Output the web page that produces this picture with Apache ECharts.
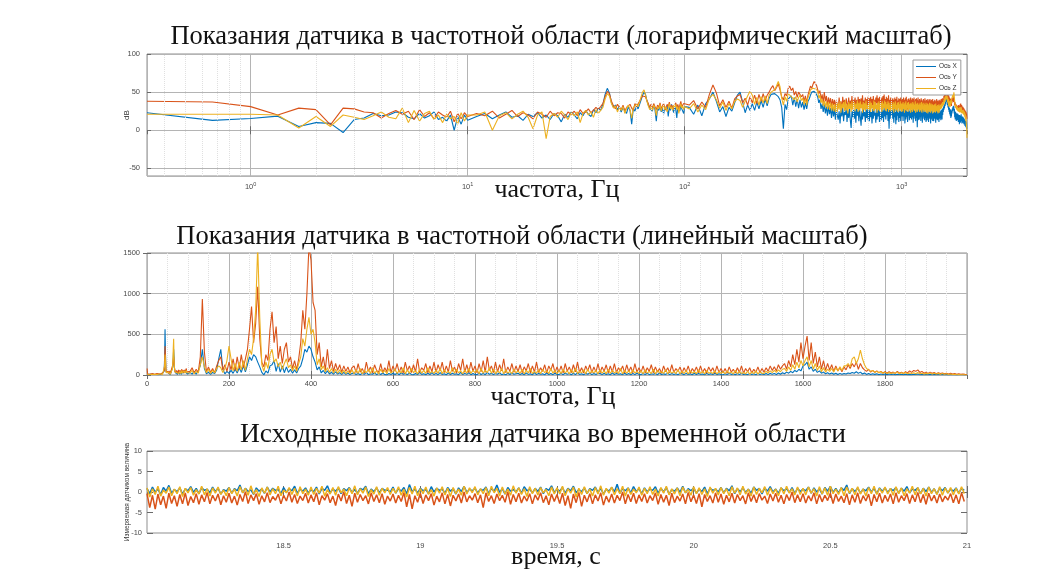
<!DOCTYPE html>
<html>
<head>
<meta charset="utf-8">
<script src="https://cdn.jsdelivr.net/npm/echarts@6/dist/echarts.min.js"></script>
<style>
  html, body { margin: 0; padding: 0; background: #ffffff; }
  #chart { width: 1057px; height: 571px; }
</style>
</head>
<body>
<div id="chart"></div>
<script>
// Sensor axes and their trace colours
const axisNames = ['Ось X', 'Ось Y', 'Ось Z'];
const axisColors = ['#0072BD', '#D95319', '#EDB120'];

// Spectrum bins, Hz: 1/3 Hz bins up to 10 Hz, then 1 Hz bins to 100 Hz, then 5 Hz bins to 2000 Hz
const freqLow = [0.333, 0.667, 1, 1.333, 1.667, 2, 2.333, 2.667, 3, 3.333, 3.667, 4, 4.333, 4.667, 5,
  5.333, 5.667, 6, 6.333, 6.667, 7, 7.333, 7.667, 8, 8.333, 8.667, 9, 9.333, 9.667, 10];
const freqMidRange = [11, 100, 1];
const freqHighRange = [105, 2000, 5];

// Spectrum levels, dB — 0.33..10 Hz
const dbLowX = [23, 13, 15.5, 18.5, 5, 10, 9, -3, 14, 16, 22, 19, 20, 24, 23, 17, 15, 22, 16, 19, 24, 14, 17, 12, 20, 0, 18, 8, 20, 13];
const dbLowY = [38, 37, 31, 20, 29, 27, 7, 29, 28, 24, 23, 16, 22, 26, 21, 25, 14, 27, 18, 23, 15, 24, 20, 17, 25, 11, 22, 15, 23, 18];
const dbLowZ = [21, 21, 21, 20, 3, 18, 5, 20, 17, 14, 19, 24, 17, 15, 29, 10, 26, 12, 22, 25, 14, 20, 10, 21, 15, 18, 8, 23, 12, 20];

// Spectrum levels, dB — 11..100 Hz
const dbMidX = [
  18, 22, 15, 20, 24, 17, 19, 13, 21, 18,
  23, 16, 20, 14, 22, 19, 11, 21, 17, 24,
  20, 15, 23, 19, 26, 21, 18, 27, 23, 29,
  26, 34, 47, 55, 49, 36, 30, 33, 27, 31,
  24, 30, 28, 22, 31, 26, 8, 29, 25, 32,
  28, 34, 40, 46, 50, 47, 39, 33, 29, 31,
  25, 33, 27, 12, 30, 26, 32, 24, 29, 21,
  31, 27, 33, 18, 30, 26, 34, 28, 23, 31,
  27, 16, 32, 29, 25, 33, 28, 30, 22, 31];
const dbMidY = [
  22, 19, 25, 16, 21, 26, 18, 23, 20, 15,
  24, 21, 17, 25, 19, 23, 22, 16, 24, 21,
  25, 19, 27, 22, 24, 28, 23, 26, 30, 27,
  31, 35, 44, 51, 48, 38, 32, 28, 34, 30,
  27, 33, 25, 30, 28, 34, 29, 26, 35, 31,
  33, 38, 42, 45, 47, 44, 39, 35, 30, 34,
  29, 35, 31, 27, 33, 30, 36, 28, 32, 35,
  30, 26, 34, 31, 37, 29, 33, 35, 28, 32,
  36, 30, 34, 27, 33, 38, 31, 29, 35, 33];
const dbMidZ = [
  20, 24, 0, 19, 23, 15, 21, 25, 17, 2,
  20, 24, -11, 18, 22, 17, 25, 20, 14, 23,
  19, 24, 10, 22, 26, 20, 24, 17, 27, 22,
  26, 30, 41, 48, 45, 35, 29, 32, 24, 30,
  26, 31, 22, 29, 33, 27, 16, 30, 28, 34,
  31, 37, 44, 50, 53, 46, 38, 32, 27, 31,
  26, 33, 29, 19, 31, 28, 34, 25, 30, 33,
  27, 31, 24, 29, 35, 28, 31, 26, 33, 30,
  34, 27, 31, 22, 30, 35, 29, 32, 27, 31];

// Spectrum levels, dB — 105..2000 Hz, one row per 100 Hz
const dbHighX = [
  30, 21, 33, 19, 35, 41, 50, 38, 24, 31, 18, 30, 25, 36, 46, 50, 37, 23, 33, 26,
  35, 26, 37, 28, 39, 30, 41, 32, 42, 47, 45, 48, 47, 44, 40, 30, 2, 34, 27, 41,
  42, 45, 33, 43, 31, 41, 29, 40, 30, 37, 27, 36, 28, 38, 41, 46, 50, 49, 51, 50,
  47, 44, 36, 40, 28, 35, 24, 34, 22, 31, 19, 32, 21, 29, 16, 30, 18, 28, 14, 26,
  28, 14, 25, 9, 27, 18, 30, 12, 24, 20, 29, 11, 26, 16, 28, 13, 3, 25, 17, 27,
  15, 27, 10, 29, 19, 26, 12, 28, 17, 6, 25, 14, 30, 18, 24, 11, 27, 16, 29, 13,
  26, 12, 29, 17, 24, 9, 28, 15, 27, 19, 23, 10, 30, 14, 26, 18, 29, 11, 25, 16,
  13, 28, 16, 26, 11, 30, 18, 27, 14, 25, 20, 29, 12, 24, 2, 27, 15, 28, 19, 24,
  27, 15, 25, 10, 28, 17, 24, 8, 29, 13, 26, 19, 23, 11, 28, 16, 25, 12, 27, 18,
  16, 26, 12, 28, 18, 25, 9, 27, 14, 29, 17, 24, 11, 26, 19, 28, 13, 25, 16, 27,
  25, 14, 27, 17, 24, 10, 28, 15, 26, 19, 23, 12, 27, 16, 25, 4, 26, 13, 28, 18,
  14, 25, 17, 27, 12, 24, 19, 26, 10, 28, 15, 23, 18, 27, 13, 25, 16, 24, 11, 26,
  24, 13, 26, 16, 23, 11, 27, 15, 25, 18, 22, 9, 26, 14, 24, 17, 27, 12, 23, 15,
  12, 24, 15, 26, 18, 23, 10, 25, 14, 27, 16, 22, 13, 25, 17, 24, 11, 26, 15, 23,
  16, 25, 13, 27, 18, 26, 14, 28, 20, 29, 24, 31, 27, 33, 29, 35, 32, 37, 34, 41,
  42, 44, 37, 40, 33, 37, 30, 34, 27, 31, 24, 29, 21, 28, 19, 27, 16, 26, 18, 25,
  22, 28, 25, 30, 27, 32, 26, 31, 22, 28, 17, 25, 14, 24, 18, 23, 12, 22, 15, 21,
  13, 22, 16, 21, 11, 20, 15, 19, 8, 20, 14, 18, 10, 19, 15, 21, 12, 18, 9, 17,
  12, 18, 10, 17, 13, 16, 8, 15, 11, 14, 6, 13, 9, 12, 4, 11, 7, 10, 3, 2];
const dbHighY = [
  33, 39, 28, 37, 30, 47, 59.4, 49, 32, 40, 30, 38, 29, 41, 45, 47, 36, 42, 33, 44,
  36, 46, 35, 47, 38, 48, 39, 46, 50, 55, 58.5, 52, 56, 60.7, 53, 44, 40, 48, 45, 55,
  57.8, 52, 55.5, 46, 51, 43, 50, 52, 44, 47, 38, 45, 36, 46, 52, 58, 55, 60, 64, 63,
  59, 58, 48, 52, 40, 47, 36, 50, 38, 45, 33, 43, 35, 42, 31, 41, 33, 40, 29, 39,
  41, 29, 43, 31, 38, 27, 44, 33, 40, 28, 42, 35, 30, 43, 29, 39, 32, 45, 28, 41,
  33, 43, 30, 40, 28, 44, 34, 41, 29, 42, 31, 46, 30, 39, 35, 43, 28, 41, 32, 44,
  30, 42, 34, 44, 29, 41, 31, 45, 33, 40, 28, 43, 35, 46, 30, 42, 29, 44, 33, 41,
  28, 43, 32, 45, 30, 47, 35, 41, 29, 44, 31, 42, 34, 46, 29, 40, 33, 43, 30, 41,
  32, 42, 29, 40, 34, 43, 28, 41, 31, 44, 30, 39, 33, 42, 28, 41, 35, 43, 29, 40,
  31, 41, 28, 43, 33, 40, 29, 42, 32, 44, 30, 39, 27, 41, 34, 42, 29, 40, 31, 43,
  29, 40, 33, 42, 28, 41, 31, 43, 30, 39, 34, 41, 28, 42, 32, 40, 29, 43, 31, 39,
  30, 41, 28, 39, 33, 42, 29, 40, 31, 38, 27, 41, 32, 39, 29, 42, 30, 38, 33, 40,
  28, 39, 31, 41, 27, 38, 32, 40, 29, 41, 30, 38, 28, 40, 33, 39, 27, 41, 30, 38,
  29, 38, 27, 40, 31, 37, 28, 39, 30, 41, 27, 38, 32, 39, 28, 37, 30, 40, 29, 38,
  31, 39, 33, 41, 35, 40, 34, 42, 37, 41, 43, 37, 45, 40, 48, 42, 50, 44, 52, 46,
  51, 53.6, 45, 52, 43, 49, 40, 47, 37, 45, 35, 43, 36, 42, 33, 41, 34, 39, 32, 40,
  36, 42, 38, 43, 40, 44, 37, 43, 39, 36, 33, 37, 31, 35, 30, 34, 29, 33, 28, 32,
  27, 32, 28, 31, 26, 33, 27, 31, 25, 32, 28, 34, 30, 35, 33, 36, 30, 33, 27, 31,
  26, 31, 27, 30, 24, 29, 25, 28, 23, 27, 22, 26, 21, 25, 20, 24, 19, 22, 18, 15];
const dbHighZ = [
  28, 35, 24, 33, 27, 42, 47, 40, 29, 37, 26, 35, 28, 38, 41, 39, 30, 38, 45, 51,
  46, 34, 43, 33, 44, 36, 45, 35, 46, 50, 48, 53, 58, 64, 57, 42, 33, 44, 38, 48,
  50, 44, 46, 40, 44, 37, 43, 46, 39, 42, 34, 41, 33, 43, 47, 53, 51, 55, 57, 54,
  55, 52, 42, 46, 36, 41, 32, 39, 30, 38, 28, 37, 27, 36, 26, 35, 25, 34, 24, 36,
  24, 36, 27, 38, 23, 35, 29, 37, 25, 39, 26, 34, 22, 37, 28, 35, 24, 38, 27, 33,
  37, 25, 35, 28, 39, 24, 36, 26, 38, 29, 34, 23, 37, 27, 35, 25, 39, 28, 33, 26,
  35, 27, 38, 24, 36, 29, 33, 25, 39, 26, 37, 28, 34, 23, 36, 27, 38, 25, 35, 29,
  36, 24, 38, 27, 35, 29, 39, 26, 37, 25, 34, 28, 38, 24, 36, 27, 33, 25, 37, 28,
  34, 26, 37, 23, 35, 28, 38, 25, 33, 27, 36, 24, 37, 29, 34, 25, 38, 27, 35, 24,
  35, 25, 37, 28, 34, 23, 36, 27, 38, 25, 33, 29, 36, 24, 37, 26, 34, 28, 35, 23,
  36, 27, 34, 24, 37, 26, 35, 28, 33, 25, 38, 23, 35, 27, 34, 24, 36, 28, 33, 26,
  34, 24, 36, 27, 33, 25, 37, 23, 35, 28, 32, 26, 36, 24, 34, 27, 33, 25, 36, 23,
  33, 25, 35, 22, 34, 27, 32, 24, 36, 26, 33, 23, 35, 27, 31, 25, 34, 22, 33, 26,
  32, 24, 34, 27, 31, 23, 35, 25, 32, 26, 30, 24, 33, 22, 31, 25, 34, 23, 32, 27,
  26, 33, 28, 34, 29, 35, 30, 36, 32, 37, 38, 33, 40, 35, 42, 37, 44, 39, 45, 41,
  45, 47, 40, 45, 37, 43, 35, 41, 32, 39, 31, 37, 33, 38, 31, 39, 34, 40, 35, 41,
  41, 43, 40, 46, 47, 43, 46, 49.7, 46, 42, 38, 36, 33, 35, 30, 33, 29, 32, 27, 31,
  26, 30, 25, 29, 27, 31, 24, 29, 26, 30, 23, 28, 25, 29, 24, 30, 23, 27, 22, 26,
  24, 28, 22, 27, 21, 26, 20, 25, 19, 24, 17, 22, 15, 20, 12, 17, 8, 10, 3, -10];

// Raw readings, 18.00..20.99 s at 10 ms, one row per 0.3 s
const timeStart = 18;
const timeStep = 0.01;
const sigX = [
  0.9, -0.4, 1.2, 0.0, 0.7, -0.6, 1.1, 0.2, 1.6, -0.3, 0.6, 0.1, 1.0, -0.5, 0.8, 0.3, 1.3, -0.1, 0.9, -0.4, 1.0, 0.4, 0.7, -0.2, 1.2, 0.1, 0.9, -0.5, 0.6, 0.2,
  1.1, -0.3, 0.8, 0.3, 1.7, -0.2, 0.9, 0.1, 0.5, -0.6, 1.0, 0.2, 0.7, -0.3, 1.2, 0.0, 0.9, 0.4, 0.6, -0.4, 1.1, -0.1, 0.8, 0.3, 1.4, -0.3, 0.7, 0.2, 1.0, -0.2,
  0.5, 0.1, 1.2, -0.5, 0.9, 0.4, 1.5, -0.2, 0.7, 0.2, 1.0, -0.4, 0.8, 0.3, 1.1, -0.1, 0.6, -0.3, 0.9, 0.5, 1.4, -0.4, 0.7, 0.1, 1.0, -0.2, 0.9, 0.4, 0.5, 0.0,
  1.2, -0.3, 0.8, 0.2, 1.1, -0.5, 1.8, 0.1, 0.7, -0.2, 0.9, 0.3, 0.6, -0.4, 1.3, 0.0, 0.9, 0.4, 0.7, -0.3, 1.1, 0.2, 0.8, -0.5, 1.0, 0.1, 1.4, -0.1, 0.7, 0.3,
  0.9, -0.2, 0.7, 0.4, 1.2, -0.4, 0.9, 0.1, 1.7, -0.1, 0.8, -0.5, 1.1, 0.2, 0.6, 0.0, 1.0, -0.3, 1.3, 0.3, 0.7, -0.2, 0.9, 0.1, 1.2, -0.4, 0.8, 0.4, 1.5, -0.1,
  0.7, 0.2, 1.1, -0.3, 0.9, 0.3, 1.4, -0.2, 0.6, 0.1, 1.0, -0.4, 0.8, 0.4, 1.2, -0.1, 0.9, -0.5, 0.7, 0.2, 1.1, 0.0, 1.9, -0.3, 0.8, 0.3, 1.0, -0.2, 1.3, 0.1,
  0.8, -0.4, 1.0, 0.1, 0.7, 0.4, 1.3, -0.3, 0.9, 0.0, 1.1, -0.5, 0.6, 0.2, 1.0, -0.1, 1.4, -0.2, 0.8, 0.3, 1.0, -0.3, 0.7, 0.1, 1.2, -0.4, 0.9, 0.4, 0.7, 0.0,
  1.1, -0.2, 0.9, 0.3, 1.5, -0.4, 0.8, 0.1, 1.0, -0.1, 0.7, -0.3, 1.2, 0.4, 0.9, -0.5, 1.0, 0.2, 1.3, 0.0, 0.7, -0.3, 1.0, 0.3, 0.8, -0.1, 1.1, -0.4, 0.9, 0.1,
  0.7, 0.3, 1.2, -0.3, 1.0, 0.0, 0.8, -0.5, 1.1, 0.2, 1.4, -0.1, 0.9, -0.2, 1.0, 0.4, 1.7, -0.4, 0.8, 0.1, 1.0, -0.3, 0.7, 0.3, 1.2, 0.0, 0.9, -0.4, 1.0, 0.2,
  1.0, -0.1, 0.8, 0.3, 1.1, -0.3, 0.9, 0.2, 1.3, -0.2, 0.7, 0.4, 1.0, -0.4, 0.9, 0.1, 1.2, -0.1, 0.8, -0.5, 1.0, 0.3, 1.1, -0.2, 0.7, 0.2, 1.0, -0.3, 0.9, 0.4];
const sigY = [
  -0.4, -3.8, -0.8, -4.2, -0.5, -3.1, -1.0, -4.0, -0.3, -2.8, -0.9, -3.5, -0.6, -2.9, -0.2, -3.3, -1.1, -2.6, -0.4, -3.0, -0.7, -2.4, -0.1, -2.9, -0.8, -2.2, -0.5, -3.1, -0.9, -2.5,
  -0.3, -2.7, -1.0, -3.2, -0.6, -2.3, 0.1, -2.8, -0.7, -2.1, -0.4, -3.0, -0.9, -2.4, -0.2, -2.6, -1.1, -2.0, -0.5, -2.9, -0.8, -2.2, 0.0, -2.5, -0.6, -2.8, -1.0, -2.1, -0.3, -2.7,
  -0.7, -2.4, -0.2, -3.1, -0.9, -2.0, -0.4, -2.6, -1.0, -3.3, -0.5, -2.2, 0.1, -2.8, -0.8, -3.5, -0.3, -2.5, -0.6, -2.1, -0.9, -2.9, -0.2, -2.3, -0.7, -2.6, -0.4, -3.0, -1.0, -2.2,
  -0.5, -2.7, -0.8, -2.3, -0.1, -3.6, -0.6, -4.1, -0.9, -2.5, -0.3, -2.8, -0.7, -2.1, -0.4, -3.2, -1.0, -2.4, -0.2, -2.9, -0.6, -3.4, -0.8, -2.2, -0.5, -2.7, 0.0, -2.4, -0.9, -2.0,
  -0.4, -2.6, -0.7, -3.8, -0.2, -2.3, -0.9, -2.8, -0.5, -2.1, -0.8, -2.5, 0.1, -3.0, -0.6, -2.4, -0.3, -2.7, -1.0, -2.2, -0.4, -2.9, -0.7, -2.0, -0.2, -2.6, -0.9, -3.1, -0.5, -2.3,
  -0.6, -2.8, -0.3, -3.3, -0.9, -4.0, -0.5, -2.6, -0.1, -3.5, -0.8, -2.4, -0.4, -2.9, -0.7, -2.2, -0.2, -3.2, -1.0, -2.5, -0.5, -2.7, -0.8, -2.1, 0.0, -2.9, -0.6, -2.4, -0.3, -2.8,
  -0.7, -2.3, -0.4, -2.7, -0.9, -2.1, -0.2, -3.0, -0.6, -2.5, -0.8, -3.3, -0.3, -2.6, -1.0, -2.2, -0.5, -2.9, -0.1, -2.4, -0.7, -2.8, -0.4, -3.6, -0.6, -2.3, -0.9, -2.7, -0.2, -2.5,
  -0.5, -3.0, -0.8, -2.4, -0.3, -2.7, -0.6, -2.1, -0.9, -2.9, -0.2, -2.3, -0.7, -2.6, -0.4, -2.0, -1.0, -2.8, -0.5, -2.2, -0.3, -2.5, -0.8, -2.9, -0.6, -2.1, 0.0, -2.6, -0.7, -2.4,
  -0.4, -2.7, -0.9, -2.2, -0.2, -2.9, -0.6, -2.4, -0.8, -2.1, -0.3, -2.8, -0.5, -2.3, -1.0, -2.6, -0.4, -3.1, -0.7, -2.5, -0.2, -2.8, -0.9, -2.2, -0.5, -3.4, -0.6, -2.4, -0.3, -2.7,
  -0.8, -2.3, -0.5, -2.9, -0.2, -2.5, -0.9, -2.1, -0.4, -2.8, -0.7, -2.4, -0.1, -2.6, -0.6, -3.0, -0.3, -2.2, -0.8, -2.7, -0.5, -2.4, -1.0, -2.0, -0.4, -2.6, -0.7, -2.9, -0.2, -2.3];
const sigZ = [
  1.0, -1.2, 0.8, -0.6, 1.4, -1.0, 0.5, -0.3, 1.2, -0.9, 0.7, -0.4, 1.3, -1.1, 0.9, -0.2, 1.1, -0.8, 0.6, -0.5, 1.4, -0.7, 0.8, -1.0, 1.0, -0.3, 1.2, -0.6, 0.5, -0.9,
  1.1, -0.4, 0.7, -1.0, 1.3, -0.2, 0.9, -0.8, 1.5, -0.5, 0.6, -1.1, 1.0, -0.3, 1.2, -0.7, 0.8, -0.4, 1.4, -0.9, 0.5, -0.2, 1.1, -0.6, 0.9, -1.0, 1.3, -0.4, 0.7, -0.8,
  1.2, -0.6, 0.9, -0.3, 1.4, -1.0, 0.6, -0.5, 1.1, -0.8, 1.3, -0.2, 0.7, -0.9, 1.0, -0.4, 1.5, -0.7, 0.8, -0.3, 1.2, -1.1, 0.6, -0.5, 1.3, -0.8, 0.9, -0.2, 1.1, -0.6,
  0.9, -0.3, 1.3, -0.8, 0.7, -1.2, 1.1, -0.5, 1.4, -0.9, 0.8, -0.4, 1.2, -0.6, 0.6, -1.0, 1.0, -0.3, 1.3, -0.7, 0.9, -1.1, 1.1, -0.4, 0.7, -0.8, 1.4, -0.5, 1.0, -0.2,
  1.3, -0.7, 0.8, -0.4, 1.1, -0.9, 1.4, -0.2, 0.9, -1.0, 1.2, -0.5, 0.7, -0.8, 1.5, -0.3, 1.0, -0.6, 0.8, -1.1, 1.3, -0.4, 0.9, -0.7, 1.1, -0.2, 0.6, -0.9, 1.2, -0.5,
  1.0, -0.5, 1.4, -0.9, 0.8, -0.3, 1.2, -1.2, 0.9, -0.6, 1.3, -0.4, 0.7, -1.0, 1.1, -0.5, 1.5, -0.8, 0.9, -0.3, 1.2, -0.7, 0.8, -0.4, 1.4, -1.0, 1.0, -0.6, 0.7, -0.2,
  1.2, -0.8, 0.9, -0.4, 1.3, -0.6, 0.7, -1.0, 1.1, -0.3, 1.4, -0.7, 0.8, -0.5, 1.0, -0.9, 1.2, -0.2, 0.6, -0.8, 1.3, -0.4, 1.0, -0.6, 0.8, -1.1, 1.2, -0.3, 0.9, -0.7,
  1.1, -0.4, 0.8, -0.9, 1.3, -0.3, 1.0, -0.7, 1.4, -0.5, 0.7, -1.0, 1.2, -0.6, 0.9, -0.2, 1.3, -0.8, 1.0, -0.4, 0.7, -0.9, 1.1, -0.5, 1.4, -0.3, 0.8, -0.7, 1.2, -0.6,
  0.9, -0.7, 1.2, -0.3, 0.8, -1.0, 1.3, -0.5, 1.0, -0.8, 1.4, -0.4, 0.7, -0.6, 1.1, -0.9, 1.2, -0.3, 0.9, -0.7, 1.3, -0.5, 0.8, -1.0, 1.1, -0.4, 1.4, -0.6, 0.9, -0.3,
  1.2, -0.5, 0.9, -0.8, 1.3, -0.4, 1.0, -0.9, 0.8, -0.3, 1.4, -0.7, 1.1, -0.5, 0.9, -1.0, 1.2, -0.4, 0.8, -0.6, 1.3, -0.8, 1.0, -0.3, 1.1, -0.7, 0.9, -0.5, 1.3, -0.4];

// Axis text
const titles = [
  'Показания датчика в частотной области (логарифмический масштаб)',
  'Показания датчика в частотной области (линейный масштаб)',
  'Исходные показания датчика во временной области'
];
const xNames = ['частота, Гц', 'частота, Гц', 'время, с'];
const yNames = ['dB', '', 'Измеряемая датчиком величина'];

// ---- assembled tables ----
function rangeList(r) {
  const out = [];
  for (let v = r[0]; v <= r[1] + 1e-9; v += r[2]) out.push(v);
  return out;
}
const freqs = freqLow.concat(rangeList(freqMidRange), rangeList(freqHighRange));
const dbAll = [
  dbLowX.concat(dbMidX, dbHighX),
  dbLowY.concat(dbMidY, dbHighY),
  dbLowZ.concat(dbMidZ, dbHighZ)
];
const sigAll = [sigX, sigY, sigZ];
const times = sigX.map((_, k) => +(timeStart + k * timeStep).toFixed(2));

// Dotted minor grid of the logarithmic frequency axis (2..9 in each decade)
const logMinor = [];
[0.1, 1, 10, 100, 1000].forEach(d => {
  for (let m = 2; m <= 9; m++) {
    const v = +(m * d).toFixed(4);
    if (v > 0.34 && v < 2000) logMinor.push(v);
  }
});

const LABEL_FONT = 'Liberation Sans';
const SERIF = 'Liberation Serif';
const tickColor = '#4a4a4a';
const majorGrid = '#b4b4b4';
const minorGrid = '#e0e0e0';

const grids = [
  { left: 147, top: 54, width: 820, height: 122 },
  { left: 147, top: 253, width: 820, height: 122 },
  { left: 147, top: 451, width: 820, height: 88 }
].map(g => Object.assign(g, { show: true, borderColor: '#8f8f8f', borderWidth: 1, backgroundColor: '#ffffff', containLabel: false }));

const labelStyle = { fontFamily: LABEL_FONT, fontSize: 7.5, color: tickColor };
const tickStyle = { show: true, inside: true, length: 4, lineStyle: { color: '#6a6a6a', width: 1 } };
const plain = v => String(v);

function mirror(base, pos) {
  return Object.assign({}, base, {
    position: pos, name: '', axisLabel: { show: false },
    splitLine: { show: false }, minorSplitLine: { show: false }, minorTick: { show: false }
  });
}

function xName(text, gap, size, shift) {
  return {
    name: text, nameLocation: 'middle', nameGap: gap, nameMoveOverlap: false,
    nameTextStyle: {
      fontFamily: SERIF, fontSize: size, color: '#111', verticalAlign: 'top',
      padding: shift < 0 ? [0, -2 * shift, 0, 0] : [0, 0, 0, 2 * shift]
    }
  };
}

const xBottom = [
  Object.assign({
    type: 'log', logBase: 10, gridIndex: 0, min: 0.333, max: 2000, position: 'bottom',
    axisLine: { show: false }, axisTick: tickStyle,
    axisLabel: {
      showMinLabel: false, showMaxLabel: false, margin: 5,
      formatter: v => '{b|10}{e|' + Math.round(Math.log10(v)) + '}',
      rich: {
        b: { fontFamily: LABEL_FONT, fontSize: 7.5, color: tickColor },
        e: { fontFamily: LABEL_FONT, fontSize: 5.5, color: tickColor, padding: [0, 0, 6, 0] }
      }
    },
    splitLine: { show: true, lineStyle: { color: majorGrid, width: 1 } }
  }, xName(xNames[0], 1, 26, 0)),
  Object.assign({
    type: 'value', gridIndex: 1, min: 0, max: 2000, interval: 200, position: 'bottom',
    axisLine: { show: false }, axisTick: tickStyle,
    axisLabel: Object.assign({ showMaxLabel: false, margin: 5, formatter: plain }, labelStyle),
    splitLine: { show: true, lineStyle: { color: majorGrid, width: 1 } },
    minorTick: { show: false, splitNumber: 4 },
    minorSplitLine: { show: true, lineStyle: { color: minorGrid, type: 'dotted', width: 1 } }
  }, xName(xNames[1], 9, 26, -4)),
  Object.assign({
    type: 'value', gridIndex: 2, min: 18, max: 21, interval: 0.5, position: 'bottom',
    axisLine: { show: false }, axisTick: { show: true, inside: true, length: 6, lineStyle: { color: '#6a6a6a', width: 1 } },
    axisLabel: Object.assign({ showMinLabel: false, margin: 9, formatter: plain }, labelStyle),
    splitLine: { show: false }
  }, xName(xNames[2], 11, 26, -1))
];

const yLeft = [
  {
    type: 'value', gridIndex: 0, min: -60, max: 100, splitNumber: 3, position: 'left',
    axisLine: { show: false }, axisTick: tickStyle,
    axisLabel: Object.assign({ showMinLabel: false, margin: 7, formatter: plain }, labelStyle),
    splitLine: { show: true, lineStyle: { color: majorGrid, width: 1 } },
    name: yNames[0], nameLocation: 'middle', nameGap: 16, nameMoveOverlap: false,
    nameTextStyle: { fontFamily: LABEL_FONT, fontSize: 8, color: '#333' }
  },
  {
    type: 'value', gridIndex: 1, min: 0, max: 1500, interval: 500, position: 'left',
    axisLine: { show: false }, axisTick: tickStyle,
    axisLabel: Object.assign({ margin: 7, formatter: plain }, labelStyle),
    splitLine: { show: true, lineStyle: { color: majorGrid, width: 1 } }
  },
  {
    type: 'value', gridIndex: 2, min: -10, max: 10, interval: 5, position: 'left',
    axisLine: { show: false }, axisTick: { show: true, inside: true, length: 6, lineStyle: { color: '#6a6a6a', width: 1 } },
    axisLabel: Object.assign({ margin: 5, formatter: plain }, labelStyle),
    splitLine: { show: false },
    name: yNames[2], nameLocation: 'middle', nameGap: 16, nameMoveOverlap: false,
    nameTextStyle: { fontFamily: LABEL_FONT, fontSize: 6.5, color: '#333' }
  }
];

const xAxes = xBottom.concat(xBottom.map(a => mirror(a, 'top')));
const yAxes = yLeft.concat(yLeft.map(a => mirror(a, 'right')));

const series = [];
// minor log grid lines drawn through the frequency axis scale
series.push({
  type: 'line', xAxisIndex: 0, yAxisIndex: 0, data: [], silent: true, z: 1,
  markLine: {
    silent: true, symbol: ['none', 'none'], label: { show: false }, animation: false,
    lineStyle: { color: minorGrid, type: 'dotted', width: 1 },
    data: logMinor.map(v => ({ xAxis: v }))
  }
});
for (let i = 0; i < 3; i++) {
  const common = {
    type: 'line', name: axisNames[i], showSymbol: false, symbol: 'none', animation: false,
    lineStyle: { width: 1.1, color: axisColors[i] }, itemStyle: { color: axisColors[i] }, z: 2 + i
  };
  series.push(Object.assign({}, common, {
    xAxisIndex: 0, yAxisIndex: 0,
    data: freqs.map((f, k) => [f, dbAll[i][k]])
  }));
  series.push(Object.assign({}, common, {
    xAxisIndex: 1, yAxisIndex: 1,
    data: freqs.map((f, k) => [f, Math.pow(10, dbAll[i][k] / 20)])
  }));
  series.push(Object.assign({}, common, {
    xAxisIndex: 2, yAxisIndex: 2,
    lineStyle: { width: 1.5, color: axisColors[i] },
    data: times.map((t, k) => [t, sigAll[i][k]])
  }));
}

const titleTops = [24, 224, 421];
const titleCenters = [561, 522, 543];
const titleSizes = [26.5, 26.5, 27.5];

const option = {
  backgroundColor: '#ffffff',
  animation: false,
  title: titles.map((t, i) => ({
    text: t, left: titleCenters[i], top: titleTops[i], textAlign: 'center', padding: 0,
    textStyle: { fontFamily: SERIF, fontSize: titleSizes[i], fontWeight: 'normal', color: '#111' }
  })),
  legend: {
    data: axisNames, orient: 'vertical', left: 913, top: 60,
    icon: 'rect', itemWidth: 20, itemHeight: 1, itemGap: 4,
    textStyle: { fontFamily: LABEL_FONT, fontSize: 6.5, color: '#333', padding: [0, 0, 0, -2] },
    backgroundColor: '#ffffff', borderColor: '#9a9a9a', borderWidth: 1, padding: [3, 4, 3, 3]
  },
  grid: grids,
  xAxis: xAxes,
  yAxis: yAxes,
  series: series
};

const chart = echarts.init(document.getElementById('chart'), null, { renderer: 'canvas' });
chart.setOption(option);
</script>
</body>
</html>
